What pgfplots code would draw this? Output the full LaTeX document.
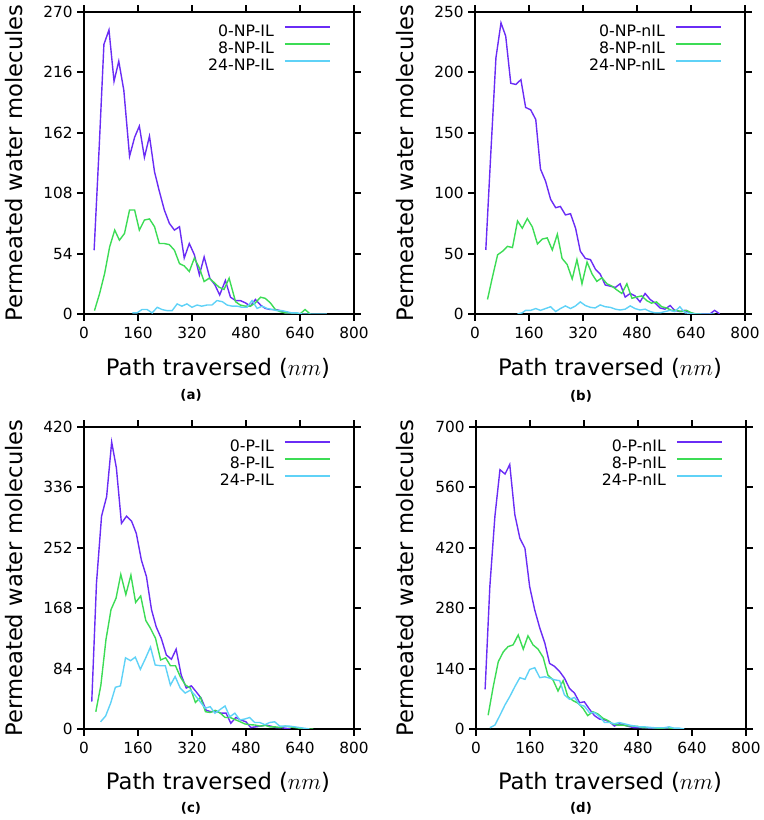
\documentclass[border=0pt]{standalone}
\usepackage{fontspec}
\setmainfont{DejaVu Sans}
\usepackage{pgfplots}
\pgfplotsset{compat=1.18}
\definecolor{cpur}{RGB}{106,44,245}
\definecolor{cgre}{RGB}{60,220,85}
\definecolor{ccya}{RGB}{95,210,247}
\pgfplotsset{panel/.style={
  scale only axis, width=202.5pt, height=226.5pt, anchor=south west,
  xmin=0, xmax=800, xtick={0,160,...,800}, ymin=0,
  axis line style={line width=1.5pt},
  major tick style={line width=1.5pt, black},
  tick align=outside, major tick length=5pt,
  tick label style={font=\fontsize{11.5}{13}\selectfont},
  xticklabel style={yshift=-1.5pt},
  /pgf/number format/assume math mode=true,
  legend cell align=right, legend plot pos=right,
  legend style={at={(1,1)}, anchor=north east, xshift=-14.25pt, yshift=-7.5pt,
    draw=none, fill=none, font=\fontsize{11.8}{13}\selectfont,
    row sep=1.95pt, column sep=7.5pt,
    nodes={inner sep=0pt, text height=8.5pt, text depth=2.3pt}},
  legend image code/.code={\draw[##1, line width=1.45pt] (0pt,3.8pt) -- (33.75pt,3.8pt);},
  every axis plot/.append style={line width=1.05pt, mark=none},
}}
\newcommand{\axlab}{\fontsize{17}{20}\selectfont}
\newcommand{\caplab}{\fontsize{10}{11}\selectfont\bfseries}
\begin{document}
\begin{tikzpicture}
\path[use as bounding box] (0,0) rectangle (572.25pt,615pt);
% (a)
\begin{axis}[panel, at={(63pt,379.5pt)}, ymax=270, ytick={0,54,...,270}]
\addplot[cpur] table {
30 57
45 149
59 241
74 254
89 208
103 226
118 200
135 141
150 158
164 168
179 140
194 159
209 127
223 110
238 93
253 81
268 75
283 78
297 50
312 63
327 53
342 35
356 51
373 32
388 26
402 17
419 30
434 15
449 12
463 12
478 10
493 7
508 13
523 8
537 5
552 4
567 4
582 3
596 1
611 1
626 0
640 0
};
\addlegendentry{0-NP-IL}
\addplot[cgre] table {
31 3
46 18
61 36
76 60
91 75
105 66
120 72
135 93
150 93
164 75
179 84
194 85
209 78
223 63
238 63
253 62
268 57
283 45
297 43
312 38
327 50
342 41
356 29
371 32
386 28
400 24
415 22
430 32
449 11
463 8
478 7
493 7
508 10
523 15
537 14
552 10
567 4
582 2
596 1
611 1
626 1
640 0
655 4
670 0
};
\addlegendentry{8-NP-IL}
\addplot[ccya] table {
143 1
157 1
172 4
187 4
202 1
217 6
231 4
246 3
261 3
276 9
290 7
305 9
320 6
335 8
349 7
364 8
379 8
394 12
410 11
424 8
439 7
454 7
468 6
483 6
498 12
513 5
528 7
542 5
557 4
572 3
587 3
601 2
616 1
631 1
646 0
690 0
720 0
};
\addlegendentry{24-NP-IL}
\end{axis}
% (b)
\begin{axis}[panel, at={(356.25pt,379.5pt)}, ymax=250, ytick={0,50,...,250}]
\addplot[cpur] table {
32 53
47 134
62 212
77 241
91 230
106 191
121 190
136 194
150 171
165 169
180 161
194 120
209 110
224 95
239 88
253 89
268 82
283 83
298 71
312 52
327 46
342 45
357 37
371 33
386 24
401 23
416 22
430 25
445 14
460 17
474 15
489 10
504 17
519 12
534 9
548 5
563 4
578 7
592 3
607 2
622 3
637 1
651 0
666 0
681 0
696 0
710 3
725 0
};
\addlegendentry{0-NP-nIL}
\addplot[cgre] table {
37 12
52 31
67 49
82 52
96 56
111 55
126 77
140 71
155 79
170 72
185 58
199 62
214 63
229 53
244 66
258 46
273 41
288 29
302 45
317 25
332 43
347 33
361 27
376 30
391 25
406 23
420 20
435 17
450 25
465 13
479 14
494 15
509 11
523 9
538 10
553 6
568 5
582 3
597 3
612 2
627 3
641 1
656 0
671 0
};
\addlegendentry{8-NP-nIL}
\addplot[ccya] table {
126 0
140 1
150 3
165 3
180 4.5
194 3
209 4.5
224 6
239 2
253 4.5
268 6.7
283 4.5
298 6.7
312 10
327 7
342 5.5
356 5
371 7.5
386 6
401 5.5
416 4
430 3.3
445 4
460 6.7
474 4.5
489 3.3
504 4
519 2
533 1
548 1
563 2
578 3
592 2
607 6
622 1
637 0.5
652 0
680 0
710 0
};
\addlegendentry{24-NP-nIL}
\end{axis}
% (c)
\begin{axis}[panel, at={(63pt,68.25pt)}, ymax=420, ytick={0,84,...,420}]
\addplot[cpur] table {
23 38
37 203
52 296
67 323
82 399
96 363
111 286
126 296
141 289
155 272
170 235
185 212
200 166
214 142
229 126
244 103
259 97
273 111
288 75
303 57
318 60
332 52
347 43
362 26
377 24
391 25
406 22
421 22
435 8
450 16
465 12.5
480 10
494 2
509 3
524 4
539 5.5
553 4
568 2
583 2
598 1
612 0
};
\addlegendentry{0-P-IL}
\addplot[cgre] table {
35 24
50 61
65 124
80 166
95 182
109 215
124 187
139 214
153 176
168 185
183 151
197 140
212 126
227 96
242 99
256 88
271 88
286 72
301 61
315 57
330 37
345 44
360 24
374 23
389 26
404 22
418 16
433 16
448 13
463 10
477 7
492 6
507 5.5
522 4
537 5
551 3
566 3
581 2
596 4
610 3
625 2
640 1
655 0
680 0
};
\addlegendentry{8-P-IL}
\addplot[ccya] table {
49 10
64 18
79 36
93 58
108 60
123 99
138 95
152 100
167 83
182 98
197 114
211 89
226 88
241 88
256 61
270 73
285 57
300 50
315 54
329 47
344 38
359 29
374 31
388 22
403 27
418 32
432 17
447 22
462 12.5
477 14
491 16
506 9
521 9
536 6
550 9
565 10
580 4
595 4
609 4
624 3
639 2
654 1
668 0
};
\addlegendentry{24-P-IL}
\end{axis}
% (d)
\begin{axis}[panel, at={(357pt,68.25pt)}, ymax=700, ytick={0,140,...,700}]
\addplot[cpur] table {
27 92
41 330
56 493
71 601
86 591
100 613
115 497
130 442
145 419
159 330
174 276
189 234
204 199
218 152
233 145
248 133
262 118
277 94
292 83
307 61
321 63
336 46
351 31
366 23
381 21
395 17
410 7
425 12
440 9
454 5.4
469 3
484 3
499 3
513 2
528 2
543 1
558 1
572 0
};
\addlegendentry{0-P-nIL}
\addplot[cgre] table {
36 32
51 98
66 156
81 179
95 191
110 195
125 218
140 185
154 216
169 195
184 185
199 166
213 125
228 114
243 88
258 112
272 75
287 66
302 60
317 48
331 31
346 40
361 35
376 25
390 20
405 12
420 9
435 9
449 7
464 7
479 6
494 3
508 3
523 3
538 2
553 2
567 3
582 1
597 0
};
\addlegendentry{8-P-nIL}
\addplot[ccya] table {
41 3
56 9
71 32
86 56
100 75
115 98
130 119
145 115
159 138
174 142
189 119
204 121
218 118
233 114
248 112
262 79
277 69
292 73
307 56
321 53
336 38
351 38
366 29
381 15
396 15
410 12
425 15
440 12
455 9
469 7
484 5
499 5
513 4
528 3
543 3
558 3
572 5
587 2
602 2
617 0
};
\addlegendentry{24-P-nIL}
\end{axis}
% labels
\node[rotate=90, font=\axlab] at (10.5pt,492.75pt) {Permeated water molecules};
\node[rotate=90, font=\axlab] at (303.75pt,492.75pt) {Permeated water molecules};
\node[rotate=90, font=\axlab] at (10.5pt,181.5pt) {Permeated water molecules};
\node[rotate=90, font=\axlab] at (303.75pt,181.5pt) {Permeated water molecules};
\node[font=\axlab] at (163.5pt,339pt) {Path traversed ($nm$)};
\node[font=\axlab] at (457.5pt,339pt) {Path traversed ($nm$)};
\node[font=\axlab] at (163.5pt,28pt) {Path traversed ($nm$)};
\node[font=\axlab] at (457.5pt,28pt) {Path traversed ($nm$)};
\node[font=\caplab] at (143.25pt,318.75pt) {(a)};
\node[font=\caplab] at (435.75pt,318pt) {(b)};
\node[font=\caplab] at (143.25pt,9pt) {(c)};
\node[font=\caplab] at (435.75pt,9pt) {(d)};
\end{tikzpicture}
\end{document}
